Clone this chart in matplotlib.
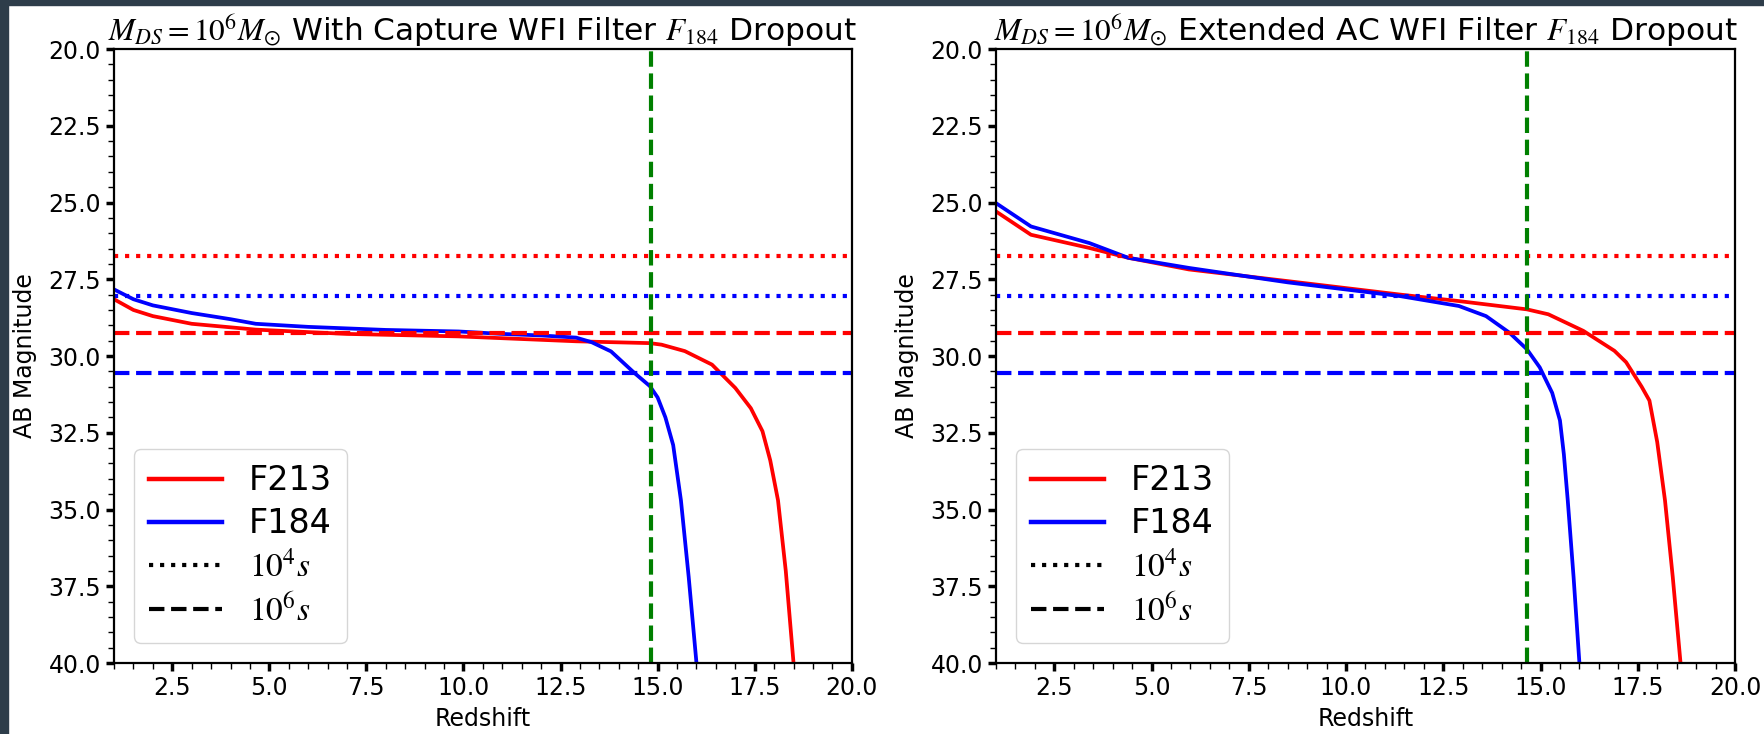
import numpy as np
import matplotlib
matplotlib.use("Agg")
import matplotlib.pyplot as plt
from matplotlib.ticker import AutoMinorLocator
from matplotlib.patches import Rectangle

plt.rcParams['mathtext.fontset'] = 'stix'
plt.rcParams['font.family'] = ['DejaVu Sans']

# capture panel
z_cap_f213 = [1.0, 1.5, 2.0, 3.0, 4.65, 7.0, 9.87, 12.9, 14.8, 15.1, 15.7, 16.4, 17.0, 17.4, 17.7, 17.9, 18.1, 18.3, 18.5]
m_cap_f213 = [28.15, 28.5, 28.7, 28.95, 29.14, 29.28, 29.36, 29.52, 29.58, 29.63, 29.84, 30.28, 31.04, 31.7, 32.45, 33.4, 34.7, 37.0, 40.0]
z_cap_f184 = [1.0, 1.5, 2.0, 3.0, 4.0, 4.65, 6.0, 8.0, 9.87, 11.0, 12.0, 12.9, 13.3, 13.8, 14.4, 14.8, 15.0, 15.2, 15.4, 15.6, 15.8, 16.0]
m_cap_f184 = [27.83, 28.15, 28.35, 28.6, 28.8, 28.95, 29.05, 29.15, 29.2, 29.28, 29.33, 29.4, 29.55, 29.85, 30.55, 30.98, 31.35, 32.0, 32.9, 34.7, 37.2, 40.0]

# extended AC panel
z_ext_f213 = [1.0, 1.9, 3.4, 4.4, 5.96, 8.5, 11.4, 12.9, 14.65, 15.2, 16.1, 16.9, 17.2, 17.4, 17.6, 17.8, 18.0, 18.2, 18.4, 18.6]
m_ext_f213 = [25.29, 26.05, 26.48, 26.8, 27.18, 27.56, 28.0, 28.21, 28.48, 28.64, 29.18, 29.83, 30.2, 30.6, 31.0, 31.45, 32.8, 34.7, 37.2, 40.0]
z_ext_f184 = [1.0, 1.9, 3.4, 4.4, 5.96, 8.5, 11.4, 12.9, 13.6, 14.2, 14.65, 14.98, 15.3, 15.5, 15.6, 15.7, 15.85, 16.0]
m_ext_f184 = [25.02, 25.78, 26.32, 26.8, 27.13, 27.6, 28.05, 28.37, 28.7, 29.24, 29.78, 30.37, 31.2, 32.1, 33.2, 34.7, 37.2, 40.0]

# limiting magnitudes (10^4 s dotted, 10^6 s dashed)
lim_f213 = [26.75, 29.25]
lim_f184 = [28.05, 30.55]
dropout_z = [14.82, 14.65]

titles = [r"$M_{DS}=10^6M_{\odot}$ With Capture WFI Filter $F_{184}$ Dropout",
          r"$M_{DS}=10^6M_{\odot}$ Extended AC WFI Filter $F_{184}$ Dropout"]
legend_labels = ["F213", "F184", r"$10^4s$", r"$10^6s$"]


def draw_panel(ax, z213, m213, z184, m184, zdrop, title):
    ax.plot(z213, m213, color='r', lw=2.7, label=legend_labels[0])
    ax.plot(z184, m184, color='b', lw=2.7, label=legend_labels[1])
    ax.axhline(lim_f213[0], color='r', ls=':', lw=3)
    ax.axhline(lim_f184[0], color='b', ls=':', lw=3)
    ax.axhline(lim_f213[1], color='r', ls='--', lw=3)
    ax.axhline(lim_f184[1], color='b', ls='--', lw=3)
    ax.axvline(zdrop, color='g', ls='--', lw=3)
    ax.plot([], [], color='k', ls=':', lw=3, label=legend_labels[2])
    ax.plot([], [], color='k', ls='--', lw=3, label=legend_labels[3])
    ax.set_xlim(1, 20)
    ax.set_ylim(40, 20)
    ax.set_xticks(np.arange(2.5, 20.1, 2.5))
    ax.set_yticks(np.arange(20, 40.1, 2.5))
    ax.xaxis.set_minor_locator(AutoMinorLocator(5))
    ax.yaxis.set_minor_locator(AutoMinorLocator(5))
    ax.tick_params(which='major', width=2.5, length=6, labelsize=17)
    ax.tick_params(which='minor', width=1, length=4)
    for s in ax.spines.values():
        s.set_linewidth(1.6)
    ax.set_xlabel("Redshift", fontsize=17, labelpad=5)
    ax.set_ylabel("AB Magnitude", fontsize=17, labelpad=8)
    ax.set_title(title, fontsize=22.5, pad=6)
    leg = ax.legend(loc='lower left', fontsize=24, handlelength=2.2, borderpad=0.45,
                    labelspacing=0.3, handletextpad=0.8, borderaxespad=0.6)
    for h in leg.get_lines()[:2]:
        h.set_linewidth(3.2)


fig = plt.figure(figsize=(17.65, 7.34), dpi=100)
ax1 = fig.add_axes([0.0646, 0.0967, 0.418, 0.8365])
ax2 = fig.add_axes([0.5643, 0.0967, 0.4187, 0.8365])
draw_panel(ax1, z_cap_f213, m_cap_f213, z_cap_f184, m_cap_f184, dropout_z[0], titles[0])
draw_panel(ax2, z_ext_f213, m_ext_f213, z_ext_f184, m_ext_f184, dropout_z[1], titles[1])

# dark frame on left and top edges
fig.patches.append(Rectangle((0, 0), 8 / 1765, 1, transform=fig.transFigure, color='#2e3d4a', zorder=10))
fig.patches.append(Rectangle((0, 1 - 5 / 734), 1, 5 / 734, transform=fig.transFigure, color='#2e3d4a', zorder=10))

fig.savefig("out.png", dpi=100)
